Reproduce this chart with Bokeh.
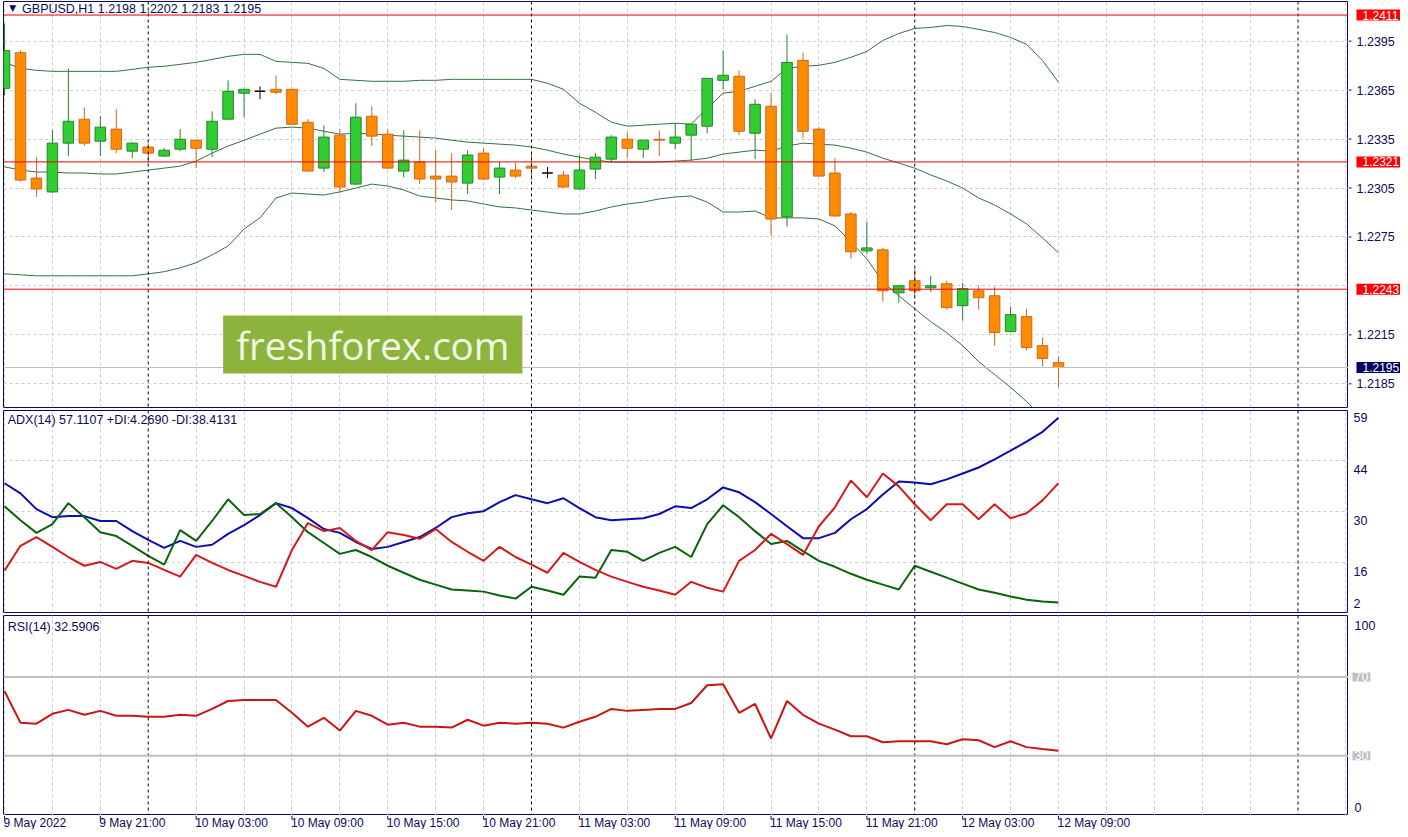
import numpy as np
from bokeh.plotting import figure
from bokeh.layouts import column, row
from bokeh.models import (Range1d, FixedTicker, Grid, Span, Label, ColumnDataSource)
from bokeh.embed import file_html
from bokeh.resources import INLINE

# ---------------- data ----------------
symbol = "GBPUSD,H1"
x_tick_labels = ["9 May 2022", "9 May 21:00", "10 May 03:00", "10 May 09:00", "10 May 15:00",
                 "10 May 21:00", "11 May 03:00", "11 May 09:00", "11 May 15:00", "11 May 21:00",
                 "12 May 03:00", "12 May 09:00"]
x_tick_bars = [0, 6, 12, 18, 24, 30, 36, 42, 48, 54, 60, 66]
day_separator_bars = [9, 33, 57, 81]

opens = [1.23661, 1.23879, 1.23111, 1.23026, 1.23325, 1.23472, 1.23337, 1.23411, 1.23276, 1.23301,
         1.23246, 1.23288, 1.23343, 1.23288, 1.23472, 1.23631, 1.23643, 1.23655, 1.23655, 1.23453,
         1.23172, 1.23374, 1.23074, 1.23490, 1.23380, 1.23154, 1.23209, 1.23123, 1.23123, 1.23080,
         1.23264, 1.23117, 1.23160, 1.23184, 1.23142, 1.23129, 1.23044, 1.23166, 1.23227, 1.23349,
         1.23288, 1.23349, 1.23325, 1.23374, 1.23429, 1.23710, 1.23735, 1.23386, 1.23551, 1.22873,
         1.23832, 1.23411, 1.23142, 1.22891, 1.22665, 1.22671, 1.22408, 1.22482, 1.22439, 1.22463,
         1.22329, 1.22420, 1.22390, 1.22170, 1.22262, 1.22084, 1.2198]
highs = [1.24058, 1.23893, 1.23239, 1.23404, 1.23783, 1.23545, 1.23490, 1.23533, 1.23331, 1.23325,
         1.23294, 1.23411, 1.23345, 1.23520, 1.23710, 1.23657, 1.23673, 1.23741, 1.23657, 1.23472,
         1.23435, 1.23411, 1.23570, 1.23551, 1.23411, 1.23404, 1.23404, 1.23282, 1.23264, 1.23282,
         1.23294, 1.23209, 1.23203, 1.23258, 1.23178, 1.23154, 1.23252, 1.23264, 1.23374, 1.23392,
         1.23345, 1.23404, 1.23447, 1.23443, 1.23724, 1.23893, 1.23771, 1.23594, 1.23631, 1.23991,
         1.23881, 1.23423, 1.23233, 1.22903, 1.22842, 1.22683, 1.22453, 1.22555, 1.22512, 1.22482,
         1.22469, 1.22451, 1.22445, 1.22323, 1.22310, 1.22133, 1.2202]
lows = [1.23618, 1.23089, 1.22995, 1.23020, 1.23246, 1.23307, 1.23246, 1.23264, 1.23233, 1.23203,
        1.23240, 1.23276, 1.23172, 1.23240, 1.23468, 1.23484, 1.23594, 1.23624, 1.23438, 1.23150,
        1.23148, 1.23019, 1.23070, 1.23307, 1.23168, 1.23117, 1.23074, 1.22964, 1.22915, 1.23013,
        1.23099, 1.23013, 1.23111, 1.23099, 1.23111, 1.23052, 1.23040, 1.23105, 1.23209, 1.23233,
        1.23233, 1.23246, 1.23288, 1.23215, 1.23386, 1.23655, 1.23374, 1.23227, 1.22757, 1.22812,
        1.23356, 1.23120, 1.22873, 1.22616, 1.22647, 1.22353, 1.22347, 1.22384, 1.22414, 1.22304,
        1.22237, 1.22304, 1.22084, 1.22166, 1.22054, 1.21956, 1.2183]
closes = [1.23893, 1.23099, 1.23044, 1.23325, 1.23459, 1.23325, 1.23423, 1.23288, 1.23325, 1.23264,
          1.23282, 1.23349, 1.23294, 1.23459, 1.23643, 1.23655, 1.23643, 1.23637, 1.23441, 1.23154,
          1.23362, 1.23056, 1.23484, 1.23368, 1.23172, 1.23221, 1.23105, 1.23105, 1.23087, 1.23252,
          1.23105, 1.23172, 1.23123, 1.23172, 1.23142, 1.23056, 1.23160, 1.23239, 1.23362, 1.23294,
          1.23343, 1.23343, 1.23362, 1.23441, 1.23722, 1.23741, 1.23398, 1.23563, 1.22860, 1.23820,
          1.23398, 1.23123, 1.22879, 1.22659, 1.22683, 1.22420, 1.22451, 1.22420, 1.22451, 1.22317,
          1.22433, 1.22378, 1.22164, 1.22274, 1.22072, 1.22005, 1.2195]

bb_upper = [1.23820, 1.23783, 1.23771, 1.23765, 1.23765, 1.23765, 1.23765, 1.23765, 1.23777, 1.23790,
            1.23796, 1.23808, 1.23820, 1.23838, 1.23857, 1.23869, 1.23869, 1.23826, 1.23820, 1.23814,
            1.23783, 1.23716, 1.23710, 1.23704, 1.23704, 1.23704, 1.23710, 1.23710, 1.23716, 1.23716,
            1.23716, 1.23716, 1.23716, 1.23716, 1.23692, 1.23655, 1.23570, 1.23514, 1.23453, 1.23429,
            1.23435, 1.23441, 1.23447, 1.23441, 1.23539, 1.23631, 1.23643, 1.23673, 1.23704, 1.23783,
            1.23796, 1.23802, 1.23820, 1.23851, 1.23887, 1.23954, 1.23997, 1.24028, 1.24034, 1.24046,
            1.24040, 1.24022, 1.24003, 1.23973, 1.23930, 1.23832, 1.23698]
bb_middle = [1.23180, 1.23160, 1.23148, 1.23148, 1.23142, 1.23142, 1.23136, 1.23136, 1.23148, 1.23160,
             1.23172, 1.23184, 1.23215, 1.23264, 1.23307, 1.23343, 1.23380, 1.23417, 1.23423, 1.23417,
             1.23398, 1.23380, 1.23386, 1.23380, 1.23374, 1.23368, 1.23362, 1.23356, 1.23343, 1.23331,
             1.23325, 1.23319, 1.23313, 1.23301, 1.23282, 1.23258, 1.23239, 1.23221, 1.23209, 1.23209,
             1.23209, 1.23209, 1.23215, 1.23221, 1.23233, 1.23258, 1.23270, 1.23282, 1.23276, 1.23307,
             1.23325, 1.23319, 1.23313, 1.23294, 1.23270, 1.23233, 1.23203, 1.23172, 1.23130, 1.23093,
             1.23050, 1.22989, 1.22946, 1.22891, 1.22830, 1.22744, 1.22653]
bb_lower = [1.22524, 1.22518, 1.22512, 1.22512, 1.22512, 1.22512, 1.22512, 1.22512, 1.22512, 1.22524,
            1.22537, 1.22561, 1.22592, 1.22640, 1.22695, 1.22799, 1.22867, 1.22989, 1.23019, 1.23013,
            1.23007, 1.23026, 1.23050, 1.23074, 1.23062, 1.23038, 1.23001, 1.22989, 1.22977, 1.22971,
            1.22952, 1.22934, 1.22928, 1.22915, 1.22903, 1.22891, 1.22891, 1.22909, 1.22934, 1.22952,
            1.22964, 1.22983, 1.22995, 1.23001, 1.22964, 1.22903, 1.22903, 1.22909, 1.22867, 1.22867,
            1.22867, 1.22860, 1.22818, 1.22720, 1.22616, 1.22475, 1.22390, 1.22310, 1.22231, 1.22164,
            1.22084, 1.21986, 1.21907, 1.21828, 1.21742, 1.21644, 1.21540]

adx = [38.4, 35.5, 31.0, 28.7, 29.0, 29.0, 27.6, 27.6, 24.7, 22.2,
       19.9, 21.9, 20.2, 20.8, 23.9, 26.4, 29.3, 32.7, 31.3, 28.4,
       25.3, 24.2, 21.6, 19.6, 20.2, 21.6, 23.0, 25.6, 28.7, 29.8,
       30.4, 33.0, 35.0, 33.8, 32.7, 34.1, 31.3, 28.7, 27.8, 28.1,
       28.4, 29.6, 31.8, 31.3, 33.8, 37.2, 35.8, 33.0, 29.6, 26.1,
       22.7, 22.7, 24.2, 28.1, 31.0, 35.2, 38.9, 38.6, 38.1, 39.5,
       41.2, 42.9, 45.2, 47.7, 50.3, 53.1, 57.1107]
plus_di = [31.8, 27.8, 24.2, 26.7, 32.7, 28.7, 24.4, 23.3, 20.5, 17.6,
           15.1, 25.0, 21.9, 27.6, 33.8, 29.3, 29.6, 32.7, 28.7, 24.4,
           21.3, 18.2, 19.3, 17.3, 14.8, 12.8, 10.8, 9.4, 8.0, 7.7,
           7.4, 6.3, 5.4, 8.8, 7.7, 6.5, 11.7, 11.4, 19.3, 18.8,
           16.2, 18.5, 20.2, 17.3, 26.7, 32.1, 28.7, 24.7, 21.0, 21.9,
           19.0, 16.2, 14.5, 12.5, 10.8, 9.4, 8.0, 14.8, 13.1, 11.4,
           9.7, 8.0, 7.1, 6.0, 5.1, 4.6, 4.2690]
minus_di = [13.4, 20.5, 23.0, 20.2, 17.3, 14.8, 15.9, 13.9, 16.2, 15.6,
            13.6, 11.7, 17.9, 15.6, 13.6, 11.9, 10.2, 8.8, 19.3, 27.0,
            24.7, 25.6, 21.9, 19.3, 24.4, 23.6, 22.5, 25.3, 21.6, 18.8,
            16.2, 20.2, 17.3, 15.1, 12.8, 18.5, 15.9, 13.6, 11.7, 10.2,
            8.8, 7.7, 6.5, 10.2, 8.5, 7.4, 16.2, 19.3, 23.9, 21.0,
            17.9, 26.1, 31.5, 39.2, 34.4, 41.2, 37.5, 32.4, 27.8, 32.4,
            32.4, 28.1, 32.4, 28.4, 29.8, 33.5, 38.4131]
rsi = [62.8, 46.8, 46.3, 51.3, 53.3, 50.8, 52.8, 50.3, 50.3, 49.8,
       49.8, 50.8, 50.3, 53.8, 57.8, 58.3, 58.3, 58.3, 51.8, 44.8,
       49.3, 42.8, 52.8, 50.3, 45.8, 46.8, 44.8, 44.8, 44.3, 48.3,
       45.3, 46.8, 46.3, 46.8, 46.3, 44.3, 47.3, 49.8, 53.8, 52.8,
       53.3, 53.8, 53.8, 56.8, 65.8, 66.3, 51.8, 56.3, 38.8, 57.8,
       50.8, 46.3, 43.3, 39.9, 39.9, 36.9, 37.4, 37.4, 37.4, 35.9,
       38.4, 37.9, 34.4, 37.4, 34.4, 33.4, 32.5906]

levels = [1.2411, 1.2321, 1.2243]
last_price = 1.2195
price_ticks = [1.2395, 1.2365, 1.2335, 1.2305, 1.2275, 1.2215, 1.2185]
price_grid = [1.2395, 1.2365, 1.2335, 1.2305, 1.2275, 1.2245, 1.2215, 1.2185]
adx_tick_labels = ["59", "44", "30", "16", "2"]
adx_tick_pos = [57.1, 42.3, 27.6, 13.1, 4.0]
adx_grid = [15.87, 30.3, 44.76]
rsi_levels = [70, 30]
rsi_tick_labels = ["100", "0"]
rsi_tick_pos = [96.2, 3.6]

# ---------------- styles ----------------
NAVY = "#0a0a5a"
GRIDC = "#cccccc"
FONT = "Liberation Sans"
FS = "12.5px"
BULL_FILL, BULL_LINE = "#32cd32", "#23862a"
BEAR_FILL, BEAR_LINE = "#ff8c00", "#d2661e"
BB_COLOR = "#33733a"
FRAME_W, SIDE_W = 1345, 52

n = len(opens)
bars = np.arange(n)
x_range = Range1d(-0.063, 84.16)
vgrid_ticks = [k for k in range(0, 85, 3) if k not in day_separator_bars]


def base_fig(frame_w, frame_h, xr, yr, left, right, top, bottom):
    p = figure(frame_width=frame_w, frame_height=frame_h, x_range=xr, y_range=yr,
               x_axis_type=None, y_axis_type=None, toolbar_location=None,
               output_backend="svg", min_border_left=left, min_border_right=right,
               min_border_top=top, min_border_bottom=bottom,
               background_fill_color="white", border_fill_color="white")
    p.outline_line_color = None
    return p


def panel(frame_h, y0, y1, bottom=2):
    p = base_fig(FRAME_W, frame_h, x_range, Range1d(y0, y1), 3, 0, 1, bottom)
    p.outline_line_color = NAVY
    p.outline_line_width = 1
    p.add_layout(Grid(dimension=0, ticker=FixedTicker(ticks=vgrid_ticks),
                      grid_line_color=GRIDC, grid_line_dash="3 3"))
    for d in day_separator_bars:
        p.add_layout(Span(location=d, dimension="height", line_color="black",
                          line_dash="3 3", line_width=1))
    return p


def side(p, bottom=2):
    return base_fig(SIDE_W, p.frame_height, Range1d(0, SIDE_W), p.y_range, 0, 0, 1, bottom)


def side_text(s, y, text, x=8, color=NAVY, bg=None, pad=(6, 1), size=FS):
    kw = dict(background_fill_color=bg, padding=pad) if bg else {}
    s.add_layout(Label(x=x, y=y, text=text, text_color=color, text_font=FONT,
                       text_font_size=size, text_align="left", text_baseline="middle", **kw))


def header(p, x, y, text):
    p.add_layout(Label(x=x, y=y, text=text, text_color=NAVY, text_font=FONT,
                       text_font_size=FS, text_align="left", text_baseline="middle"))


# ---------------- main price panel ----------------
p1 = panel(406, 1.21705, 1.24193)
p1.add_layout(Grid(dimension=1, ticker=FixedTicker(ticks=price_grid),
                   grid_line_color=GRIDC, grid_line_dash="3 3"))
p1.add_layout(Span(location=last_price, dimension="width", line_color="#c0c0c0", line_width=1))
for lv in levels:
    p1.add_layout(Span(location=lv, dimension="width", line_color="#e80000", line_width=1))

p1.add_layout(Label(x=23.06, y=1.22091, text="freshforex.com", text_font="Open Sans",
                    text_font_size="38.5px", text_color="#f2f7e6", text_align="center",
                    text_baseline="middle", background_fill_color="#8cb43c",
                    padding=(13, 3)))

o = np.array(opens); c = np.array(closes)
kind = np.where(c > o, 1, np.where(c < o, -1, 0))
fill = np.where(kind == 1, BULL_FILL, np.where(kind == -1, BEAR_FILL, "black"))
edge = np.where(kind == 1, BULL_LINE, np.where(kind == -1, BEAR_LINE, "black"))
src = ColumnDataSource(dict(x=bars, h=highs, l=lows, top=np.maximum(o, c),
                            bottom=np.minimum(o, c), fill=fill, edge=edge))
for band in (bb_upper, bb_middle, bb_lower):
    p1.line(bars, band, line_color=BB_COLOR, line_width=1)
p1.segment(x0="x", y0="h", x1="x", y1="l", line_color="edge", line_width=1, source=src)
p1.vbar(x="x", width=0.66, top="top", bottom="bottom", fill_color="fill",
        line_color="edge", line_width=1, source=src)

p1.add_layout(Label(x=0.3, y=1.24155, text="\u25bc", text_color=NAVY, text_font="DejaVu Sans",
                    text_font_size="9px", text_align="left", text_baseline="middle"))
header(p1, 1.1, 1.24150,
       f"{symbol}  {opens[-1]:.4f} {highs[-1]:.4f} {lows[-1]:.4f} {closes[-1]:.4f}")

s1 = side(p1)
s1.segment(x0=0, y0=price_ticks, x1=3, y1=price_ticks, line_color=NAVY, line_width=1)
for t in price_ticks:
    side_text(s1, t, f"{t:.4f}", x=8)
for lv in levels:
    side_text(s1, lv, f"{lv:.4f}", x=8, color="white", bg="#ff0000", pad=(6, 1), size="12px")
side_text(s1, last_price, f"{last_price:.4f}", x=8, color="white", bg="#000060",
          pad=(6, 1), size="12px")

# ---------------- ADX panel ----------------
p2 = panel(202, 1.43, 59.2)
p2.add_layout(Grid(dimension=1, ticker=FixedTicker(ticks=adx_grid),
                   grid_line_color=GRIDC, grid_line_dash="3 3"))
p2.line(bars, adx, line_color="#0c0cb0", line_width=2)
p2.line(bars, plus_di, line_color="#0b640b", line_width=2)
p2.line(bars, minus_di, line_color="#d41a1a", line_width=2)
header(p2, 0.2, 56.4,
       f"ADX(14) {adx[-1]:.4f} +DI:{plus_di[-1]:.4f} -DI:{minus_di[-1]:.4f}")
s2 = side(p2)
for pos, lab in zip(adx_tick_pos, adx_tick_labels):
    side_text(s2, pos, lab, x=5)

# ---------------- RSI panel ----------------
p3 = panel(200, -0.3, 101.2, bottom=0)
for lv in rsi_levels:
    p3.add_layout(Span(location=lv, dimension="width", line_color="#c0c0c0", line_width=2))
p3.line(bars, rsi, line_color="#cc1414", line_width=2)
header(p3, 0.2, 95.2, f"RSI(14) {rsi[-1]:.4f}")
s3 = side(p3, bottom=0)
for pos, lab in zip(rsi_tick_pos, rsi_tick_labels):
    side_text(s3, pos, lab, x=6)
for lv in rsi_levels:
    side_text(s3, lv, str(lv), x=4, color="white", bg="#c0c0c0", pad=(2, 0))

# ---------------- time labels strip ----------------
p4 = base_fig(FRAME_W, 14, x_range, Range1d(0, 1), 3, SIDE_W, 0, 0)
p4.segment(x0=x_tick_bars, y0=1, x1=x_tick_bars, y1=0.72, line_color=NAVY, line_width=1)
for k, lab in zip(x_tick_bars, x_tick_labels):
    p4.add_layout(Label(x=k, y=0.45, x_offset=-1, text=lab, text_color=NAVY,
                        text_font=FONT, text_font_size="12px", text_align="left",
                        text_baseline="middle"))

layout = column(row(p1, s1), row(p2, s2), row(p3, s3), p4)
open("out.html", "w").write(file_html(layout, INLINE))
